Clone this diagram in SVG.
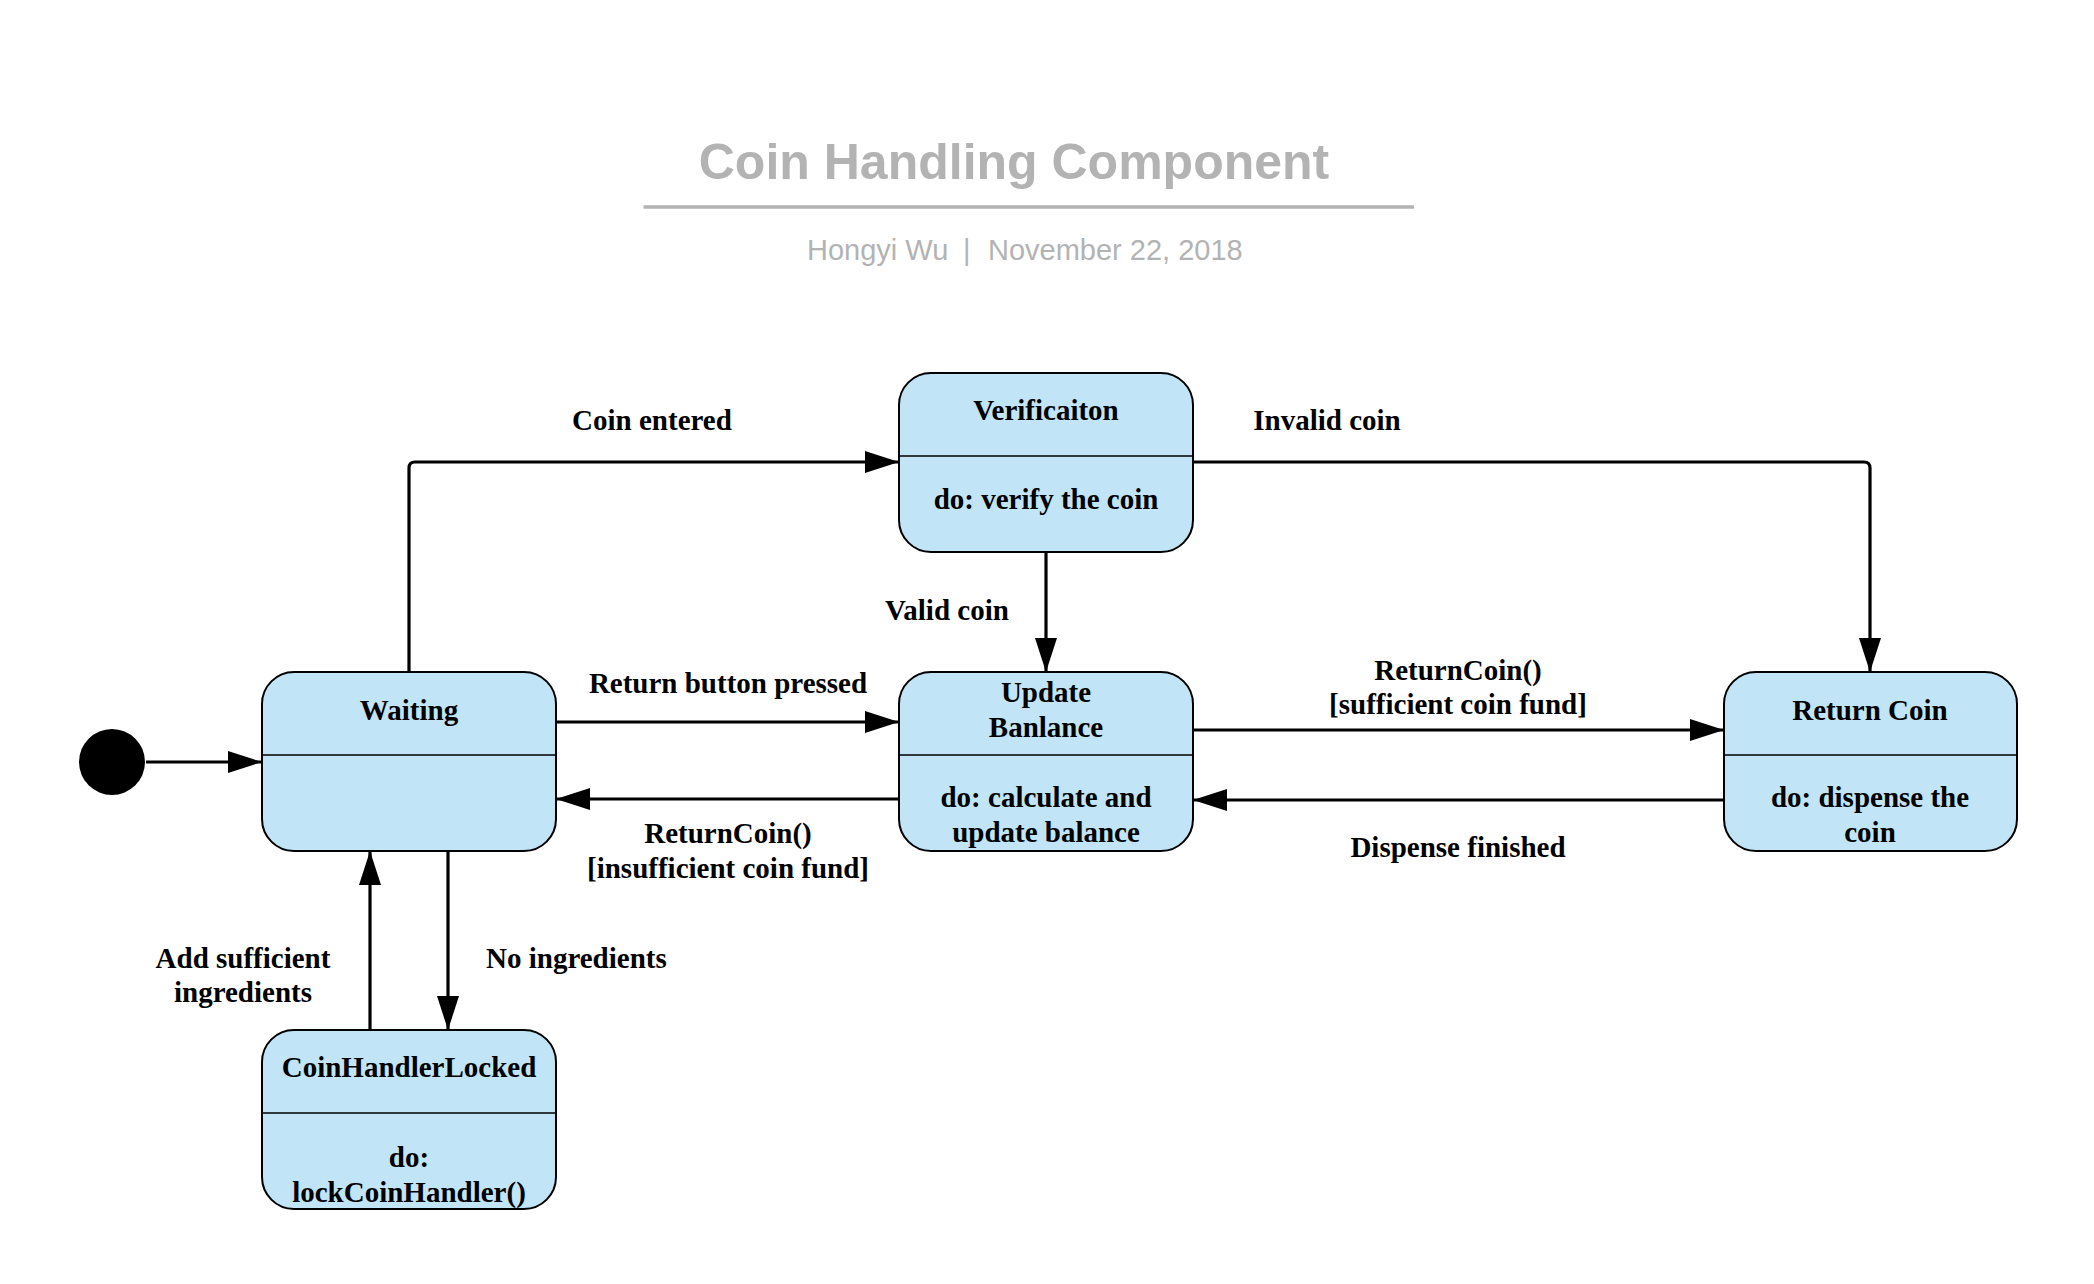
<svg xmlns="http://www.w3.org/2000/svg" width="2094" height="1284" viewBox="0 0 2094 1284">
<style>
.box{fill:#c1e4f6;stroke:#000;stroke-width:2}
.div{stroke:#000;stroke-width:1.5}
.t{font-family:"Liberation Serif","Times New Roman",serif;font-weight:bold;font-size:29px;fill:#000;text-anchor:middle}
.ts{text-anchor:start}
.c{fill:none;stroke:#000;stroke-width:3.2}
</style>
<defs>
<marker id="ah" markerUnits="userSpaceOnUse" markerWidth="36" markerHeight="24" refX="34" refY="11" orient="auto">
<path d="M0,0 L34,11 L0,22 Z" fill="#000"/>
</marker>
</defs>
<rect width="2094" height="1284" fill="#fff"/>
<g id="header">
<text x="1014" y="179" font-family="'Liberation Sans',Arial,sans-serif" font-weight="bold" font-size="50" fill="#b3b3b3" text-anchor="middle">Coin Handling Component</text>
<line x1="643.5" y1="207" x2="1414" y2="207" stroke="#b3b3b3" stroke-width="3.5"/>
<text y="260" font-family="'Liberation Sans',Arial,sans-serif" font-size="29" fill="#b3b3b3"><tspan x="807">Hongyi Wu</tspan><tspan x="963">|</tspan><tspan x="988">November 22, 2018</tspan></text>
</g>
<g id="initial">
<circle cx="112" cy="762" r="33" fill="#000"/>
</g>
<g id="waiting">
<rect class="box" x="262" y="672" width="294" height="179" rx="32"/>
<line class="div" x1="262" y1="755" x2="556" y2="755"/>
<text class="t" x="409" y="720">Waiting</text>
</g>
<g id="verification">
<rect class="box" x="899" y="373" width="294" height="179" rx="32"/>
<line class="div" x1="899" y1="456" x2="1193" y2="456"/>
<text class="t" x="1046" y="420">Verificaiton</text>
<text class="t" x="1046" y="509">do: verify the coin</text>
</g>
<g id="update-balance">
<rect class="box" x="899" y="672" width="294" height="179" rx="32"/>
<line class="div" x1="899" y1="755" x2="1193" y2="755"/>
<text class="t" x="1046" y="702">Update</text>
<text class="t" x="1046" y="737">Banlance</text>
<text class="t" x="1046" y="807">do: calculate and</text>
<text class="t" x="1046" y="842">update balance</text>
</g>
<g id="return-coin">
<rect class="box" x="1724" y="672" width="293" height="179" rx="32"/>
<line class="div" x1="1724" y1="755" x2="2017" y2="755"/>
<text class="t" x="1870" y="720">Return Coin</text>
<text class="t" x="1870" y="807">do: dispense the</text>
<text class="t" x="1870" y="842">coin</text>
</g>
<g id="coin-handler-locked">
<rect class="box" x="262" y="1030" width="294" height="179" rx="32"/>
<line class="div" x1="262" y1="1113" x2="556" y2="1113"/>
<text class="t" x="409" y="1077">CoinHandlerLocked</text>
<text class="t" x="409" y="1167">do:</text>
<text class="t" x="409" y="1202">lockCoinHandler()</text>
</g>
<g id="connectors">
<path class="c" d="M146,762 L262,762" marker-end="url(#ah)"/>
<path class="c" d="M409,672 L409,468 Q409,462 415,462 L899,462" marker-end="url(#ah)"/>
<path class="c" d="M1193,462 L1864,462 Q1870,462 1870,468 L1870,672" marker-end="url(#ah)"/>
<path class="c" d="M1046,552 L1046,672" marker-end="url(#ah)"/>
<path class="c" d="M556,722 L899,722" marker-end="url(#ah)"/>
<path class="c" d="M899,799 L556,799" marker-end="url(#ah)"/>
<path class="c" d="M1193,730 L1724,730" marker-end="url(#ah)"/>
<path class="c" d="M1724,800 L1193,800" marker-end="url(#ah)"/>
<path class="c" d="M370,1030 L370,851" marker-end="url(#ah)"/>
<path class="c" d="M448,851 L448,1030" marker-end="url(#ah)"/>
<text class="t" x="652" y="430">Coin entered</text>
<text class="t" x="1327" y="430">Invalid coin</text>
<text class="t ts" x="885" y="620">Valid coin</text>
<text class="t" x="728" y="693">Return button pressed</text>
<text class="t" x="728" y="843">ReturnCoin()</text>
<text class="t" x="728" y="878">[insufficient coin fund]</text>
<text class="t" x="1458" y="680">ReturnCoin()</text>
<text class="t" x="1458" y="714">[sufficient coin fund]</text>
<text class="t" x="1458" y="857">Dispense finished</text>
<text class="t" x="243" y="968">Add sufficient</text>
<text class="t" x="243" y="1002">ingredients</text>
<text class="t ts" x="486" y="968">No ingredients</text>
</g>
</svg>
